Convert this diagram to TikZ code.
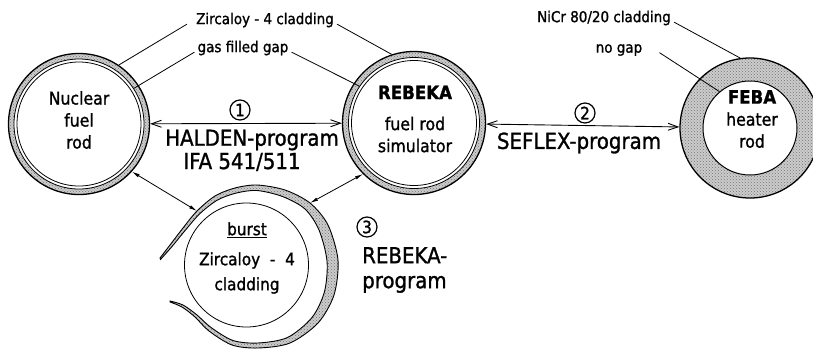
\documentclass[tikz,border=0pt]{standalone}
\usepackage{fontspec}
\setmainfont{DejaVu Sans Condensed}[FakeBold=1.2]
\usetikzlibrary{arrows.meta, patterns, positioning}

\begin{document}
\begin{tikzpicture}[x=1pt, y=-1pt,
                clad/.style={circle, draw, line width=1.3pt, preaction={fill=black!20}, pattern=crosshatch dots, pattern color=black!55},
                gapring/.style={circle, draw, line width=0.8pt, fill=white},
                core/.style={circle, draw, line width=0.8pt, fill=white},
                rodtext/.style={align=center, font=\fontsize{17.5}{22}\selectfont},
                lbl/.style={font=\fontsize{15}{16}\selectfont, inner sep=3pt},
                prog/.style={font=\fontsize{22}{22}\selectfont, inner sep=1pt},
                num/.style={circle, draw, line width=1.2pt, minimum size=20pt, inner sep=0pt, font=\fontsize{17}{17}\selectfont},
                biarrow/.style={{Straight Barb[length=10pt,width=7pt]}-{Straight Barb[length=10pt,width=7pt]}, line width=0.9pt},
                burstarrow/.style={{Latex[length=8pt,width=3.5pt]}-{Latex[length=8pt,width=3.5pt]}, line width=0.8pt},
                leader/.style={line width=0.8pt}
            ]
                \useasboundingbox (0,0) rectangle (813,349);

                % fuel rod, simulator and heater rod
                \node[clad, minimum size=141pt] (fuel) at (79,124) {};
                \node[gapring, minimum size=130pt] (fuelgap) at (fuel) {};
                \node[core, minimum size=124pt] (fuelcore) at (fuel) {};

                \node[clad, minimum size=143pt] (rebeka) at (414,123) {};
                \node[gapring, minimum size=131pt] (rebekagap) at (rebeka) {};
                \node[core, minimum size=125pt] (rebekacore) at (rebeka) {};

                \node[clad, minimum size=140pt] (feba) at (750,128) {};
                \node[core, line width=1pt, minimum size=94pt] (febacore) at (feba) {};

                \node[rodtext] (fueltext) at (79,120) {Nuclear\\fuel\\rod};
                \node[rodtext] (rebekatext) at (415,119) {{\fontsize{18.5}{22}\selectfont\textbf{REBEKA}}\\[9pt]fuel rod\\simulator};
                \node[rodtext] (febatext) at (752,119) {{\fontsize{18.5}{22}\selectfont\textbf{FEBA}}\\heater\\rod};

                % burst cladding, open to the left
                \filldraw[line width=0.9pt, preaction={fill=black!20}, pattern=crosshatch dots, pattern color=black!55]
                    plot[smooth] coordinates {(160,258) (170,245) (183,228) (197,211) (215,196) (235,188) (257,185) (285,190) (310,203) (328,225) (338,260) (334,295) (318,323) (290,343) (258,348) (232,345) (209,331) (195,317) (182,307) (170,302)}
                    -- plot[smooth] coordinates {(170,301) (183,305) (197,315) (211,327.5) (233,340.5) (258,343) (287.5,337.5) (312,317.5) (324.5,291.5) (327,261) (319,230) (305,209) (282.5,196.5) (257,190.5) (236.5,193) (217.5,200) (200,213.5) (185.5,230) (172,246.5) (160.5,259.5)}
                    -- cycle;
                \coordinate (burstnw) at (197,211);
                \coordinate (burstne) at (310,203);
                \node[core, minimum size=124pt] (burst) at (246.5,265) {};
                \node[align=center, font=\fontsize{17}{25}\selectfont] (bursttext) at (247,258) {\underline{burst}\\[5pt]Zircaloy\ \ -\ \ 4\\cladding};

                % labels on top
                \node[lbl] (zirc) at (265,20) {Zircaloy - 4 cladding};
                \node[lbl] (gas) at (243,48) {gas filled gap};
                \node[lbl] (nicr) at (604,18) {NiCr 80/20 cladding};
                \node[lbl] (nogap) at (619,50) {no gap};

                \draw[leader] ([xshift=-6pt]zirc.base west) -- (fuel.56);
                \draw[leader] (zirc.base east) -- (rebeka.108);
                \draw[leader] (gas.base west) -- (fuelgap.33);
                \draw[leader] (gas.base east) -- (rebekagap.146);
                \draw[leader] (nicr.base east) -- (feba.98);
                \draw[leader] ([xshift=14pt]nogap.base east) -- (febacore.130);

                % programs
                \draw[biarrow] (fuel) -- (rebeka);
                \draw[biarrow] (rebeka) -- (feba);
                \draw[burstarrow] (fuel.-42) -- (burstnw);
                \draw[burstarrow] (rebeka.-135) -- (burstne);

                \node[num] (num1) at (240,110) {1};
                \node[prog] (halden) at (252,140) {HALDEN-program};
                \node[prog] (ifa) at (242,162) {IFA 541/511};

                \node[num] (num2) at (585,113) {2};
                \node[prog] (seflex) at (579,143) {SEFLEX-program};

                \node[num] (num3) at (367,227) {3};
                \node[prog, anchor=west, align=left, font=\fontsize{22}{25}\selectfont] (rebekaprog) at (361,270) {REBEKA-\\program};
            \end{tikzpicture}
\end{document}
